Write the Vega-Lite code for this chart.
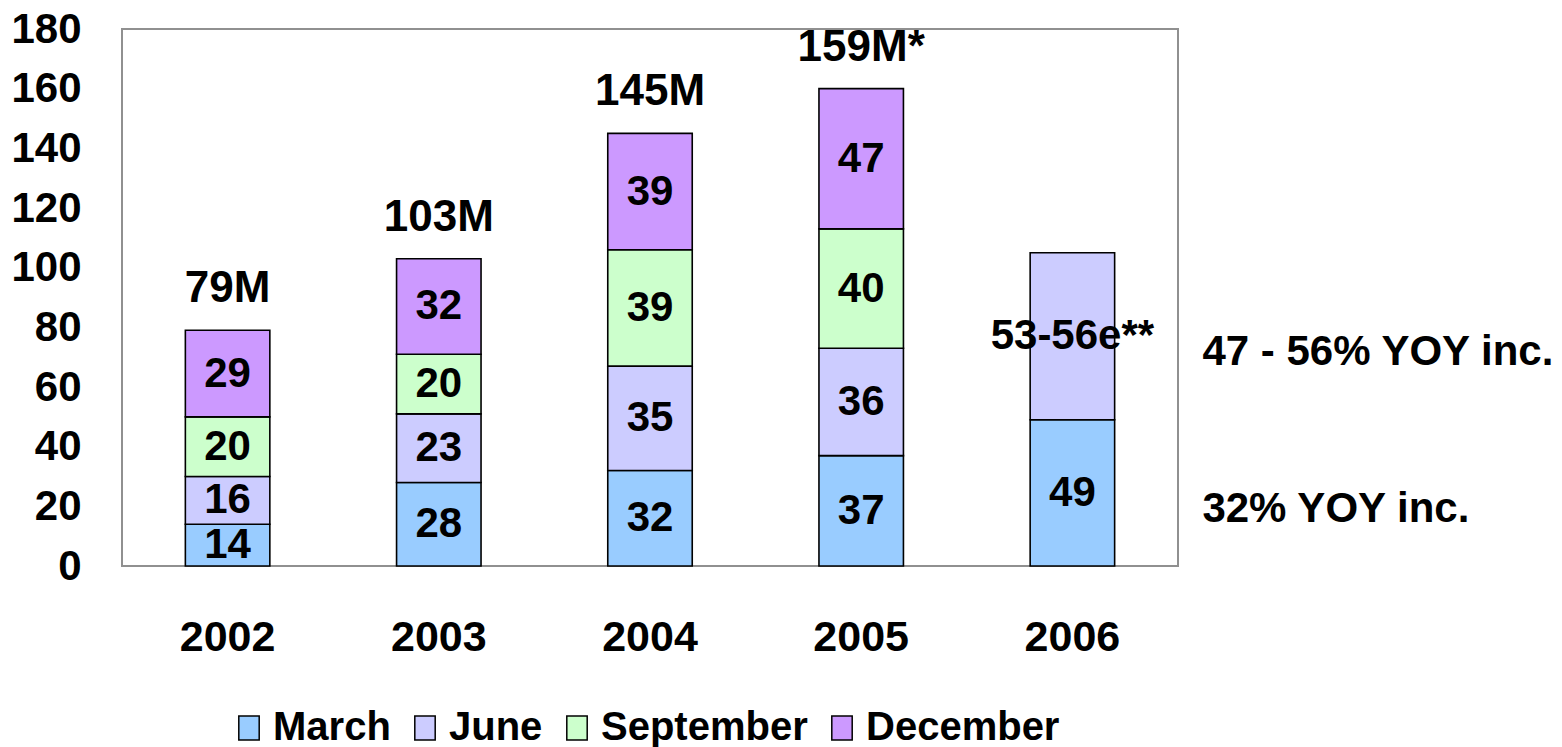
{
  "$schema": "https://vega.github.io/schema/vega-lite/v6.json",
  "width": 1056,
  "height": 537,
  "autosize": "none",
  "padding": {"left": 122, "top": 29, "right": 384, "bottom": 181},
  "background": "white",
  "config": {
    "view": {"stroke": "#909090", "strokeWidth": 2},
    "font": "Liberation Sans",
    "axis": {"labelFont": "Liberation Sans", "labelFontWeight": "bold", "labelColor": "black", "grid": false, "ticks": false, "domain": false, "title": null}
  },
  "datasets": {
    "segments": [
      {"year": "2002", "quarter": "March", "q": 1, "value": 14, "label": "14"},
      {"year": "2002", "quarter": "June", "q": 2, "value": 16, "label": "16"},
      {"year": "2002", "quarter": "September", "q": 3, "value": 20, "label": "20"},
      {"year": "2002", "quarter": "December", "q": 4, "value": 29, "label": "29"},
      {"year": "2003", "quarter": "March", "q": 1, "value": 28, "label": "28"},
      {"year": "2003", "quarter": "June", "q": 2, "value": 23, "label": "23"},
      {"year": "2003", "quarter": "September", "q": 3, "value": 20, "label": "20"},
      {"year": "2003", "quarter": "December", "q": 4, "value": 32, "label": "32"},
      {"year": "2004", "quarter": "March", "q": 1, "value": 32, "label": "32"},
      {"year": "2004", "quarter": "June", "q": 2, "value": 35, "label": "35"},
      {"year": "2004", "quarter": "September", "q": 3, "value": 39, "label": "39"},
      {"year": "2004", "quarter": "December", "q": 4, "value": 39, "label": "39"},
      {"year": "2005", "quarter": "March", "q": 1, "value": 37, "label": "37"},
      {"year": "2005", "quarter": "June", "q": 2, "value": 36, "label": "36"},
      {"year": "2005", "quarter": "September", "q": 3, "value": 40, "label": "40"},
      {"year": "2005", "quarter": "December", "q": 4, "value": 47, "label": "47"},
      {"year": "2006", "quarter": "March", "q": 1, "value": 49, "label": "49", "note": "32% YOY inc."},
      {"year": "2006", "quarter": "June", "q": 2, "value": 56, "label": "53-56e**", "note": "47 - 56% YOY inc."}
    ],
    "totals": [
      {"year": "2002", "total": 79, "label": "79M"},
      {"year": "2003", "total": 103, "label": "103M"},
      {"year": "2004", "total": 145, "label": "145M"},
      {"year": "2005", "total": 160, "label": "159M*"}
    ]
  },
  "layer": [
    {
      "data": {"name": "segments"},
      "transform": [
        {"stack": "value", "groupby": ["year"], "sort": [{"field": "q", "order": "ascending"}], "as": ["v0", "v1"]}
      ],
      "layer": [
        {
          "mark": {"type": "bar", "stroke": "black", "strokeWidth": 1.6},
          "encoding": {
            "x": {"field": "year", "type": "ordinal", "title": null,
                  "scale": {"paddingInner": 0.6, "paddingOuter": 0.3},
                  "axis": {"labelAngle": 0, "labelFontSize": 43, "labelPadding": 50}},
            "y": {"field": "v0", "type": "quantitative", "title": null,
                  "scale": {"domain": [0, 180], "nice": false},
                  "axis": {"values": [0, 20, 40, 60, 80, 100, 120, 140, 160, 180], "labelFontSize": 42, "labelPadding": 41}},
            "y2": {"field": "v1"},
            "color": {"field": "quarter", "type": "nominal",
                      "scale": {"domain": ["March", "June", "September", "December"], "range": ["#99CCFF", "#CCCCFF", "#CCFFCC", "#CC99FF"]},
                      "legend": {"orient": "none", "legendX": 107, "legendY": 679, "direction": "horizontal", "columns": 4, "title": null,
                                 "symbolType": "M-0.85,-1H0.85V1H-0.85Z", "symbolSize": 576, "symbolStrokeColor": "black", "symbolStrokeWidth": 1.5,
                                 "labelFont": "Liberation Sans", "labelFontSize": 40, "labelFontWeight": "bold", "labelColor": "black",
                                 "labelOffset": 4, "columnPadding": 14, "labelLimit": 0, "padding": 0}}
          }
        },
        {
          "transform": [{"calculate": "(datum.v0 + datum.v1) / 2", "as": "mid"}],
          "mark": {"type": "text", "font": "Liberation Sans", "fontWeight": "bold", "fontSize": 42, "color": "black", "baseline": "middle"},
          "encoding": {
            "x": {"field": "year", "type": "ordinal", "title": null},
            "y": {"field": "mid", "type": "quantitative", "title": null},
            "text": {"field": "label"}
          }
        },
        {
          "transform": [{"filter": "datum.note != null"}, {"calculate": "(datum.v0 + datum.v1) / 2", "as": "mid"}],
          "mark": {"type": "text", "font": "Liberation Sans", "fontWeight": "bold", "fontSize": 42, "color": "black", "baseline": "middle", "align": "left", "dx": 130, "dy": 16},
          "encoding": {
            "x": {"field": "year", "type": "ordinal", "title": null},
            "y": {"field": "mid", "type": "quantitative", "title": null},
            "text": {"field": "note"}
          }
        }
      ]
    },
    {
      "data": {"name": "totals"},
      "mark": {"type": "text", "font": "Liberation Sans", "fontWeight": "bold", "fontSize": 44, "color": "black", "baseline": "middle", "dy": -41},
      "encoding": {
        "x": {"field": "year", "type": "ordinal", "title": null},
        "y": {"field": "total", "type": "quantitative", "title": null},
        "text": {"field": "label"}
      }
    }
  ]
}
